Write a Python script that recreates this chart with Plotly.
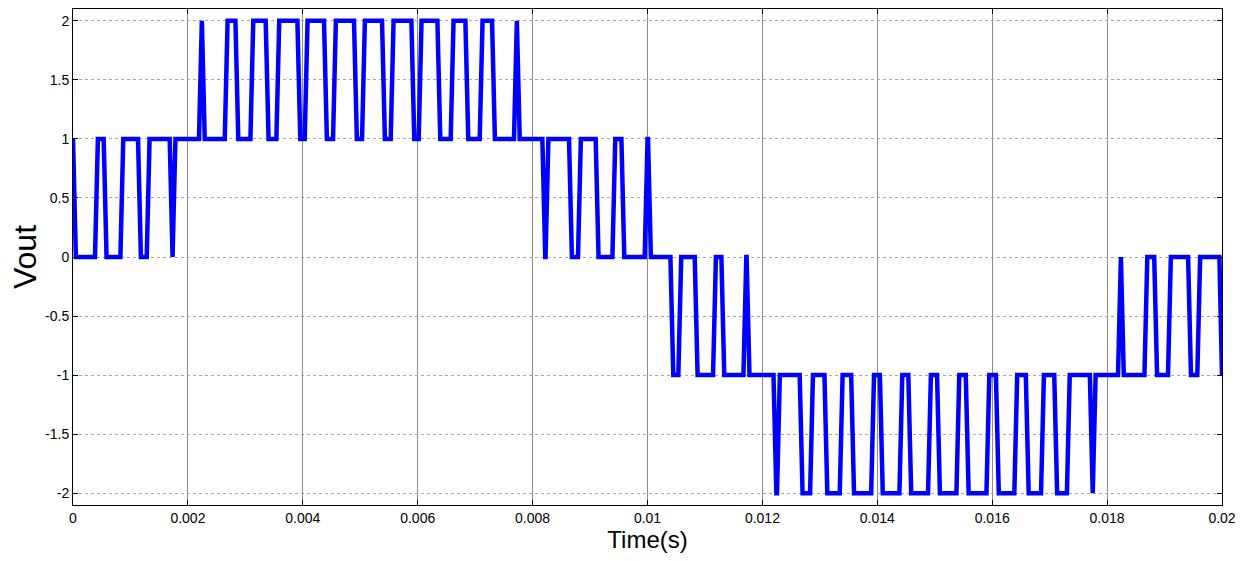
import plotly.graph_objects as go

# ---- data (times in ms, level after each switching edge) ----
initial_level = 1
edge_times_ms = [
    0.000, 0.383, 0.534, 0.825, 1.132, 1.283, 1.683, 1.733,
    2.193, 2.243, 2.641, 2.827, 3.088, 3.354, 3.540, 3.906,
    4.033, 4.369, 4.526, 4.891, 5.031, 5.379, 5.530, 5.890,
    6.017, 6.343, 6.574, 6.830, 7.079, 7.294, 7.676, 7.726,
    8.170, 8.225, 8.634, 8.790, 9.098, 9.389, 9.546, 9.951,
    10.009, 10.399, 10.537, 10.822, 11.141, 11.286, 11.670, 11.725,
    12.193, 12.254, 12.649, 12.830, 13.080, 13.346, 13.545, 13.893,
    14.045, 14.385, 14.540, 14.883, 15.040, 15.377, 15.540, 15.900,
    16.065, 16.385, 16.585, 16.850, 17.080, 17.300, 17.700, 17.750,
    18.190, 18.240, 18.650, 18.820, 19.060, 19.410, 19.570, 19.955,
]
edge_levels = [
    0, 1, 0, 1, 0, 1, 0, 1,
    2, 1, 2, 1, 2, 1, 2, 1,
    2, 1, 2, 1, 2, 1, 2, 1,
    2, 1, 2, 1, 2, 1, 2, 1,
    0, 1, 0, 1, 0, 1, 0, 1,
    0, -1, 0, -1, 0, -1, 0, -1,
    -2, -1, -2, -1, -2, -1, -2, -1,
    -2, -1, -2, -1, -2, -1, -2, -1,
    -2, -1, -2, -1, -2, -1, -2, -1,
    0, -1, 0, -1, 0, -1, 0, -1,
]
sample_step_ms = 0.05
t_end_ms = 20.0

x_title = "Time(s)"
y_title = "Vout"
x_tick_vals = [0, 0.002, 0.004, 0.006, 0.008, 0.01, 0.012, 0.014, 0.016, 0.018, 0.02]
x_tick_text = ["0", "0.002", "0.004", "0.006", "0.008", "0.01", "0.012", "0.014", "0.016", "0.018", "0.02"]
y_tick_vals = [2, 1.5, 1, 0.5, 0, -0.5, -1, -1.5, -2]
y_tick_text = ["2", "1.5", "1", "0.5", "0", "-0.5", "-1", "-1.5", "-2"]

# ---- build the sampled polyline ----
t_pts = [0.0]
v_pts = [initial_level]
level = initial_level
for te, lv in zip(edge_times_ms, edge_levels):
    if te > t_pts[-1]:
        t_pts.append(te)
        v_pts.append(level)
    t_pts.append(min(te + sample_step_ms, t_end_ms))
    v_pts.append(lv)
    level = lv
if t_pts[-1] < t_end_ms:
    t_pts.append(t_end_ms)
    v_pts.append(level)
t_s = [t / 1000.0 for t in t_pts]

fig = go.Figure()
fig.add_trace(go.Scatter(
    x=t_s, y=v_pts, mode="lines",
    line=dict(color="#0000ff", width=4.5),
    showlegend=False, hoverinfo="skip",
))

font_family = "Liberation Sans, Arial, sans-serif"
# page body adds an 8px offset; figure sized to fit the 1252x561 window
fig.update_layout(
    width=1236, height=545,
    margin=dict(l=65, r=22, t=1, b=48, autoexpand=False),
    paper_bgcolor="white", plot_bgcolor="white",
    font=dict(family=font_family, color="black", size=14),
)
fig.update_xaxes(
    range=[0, 0.02], tickvals=x_tick_vals, ticktext=x_tick_text,
    showline=True, linecolor="black", linewidth=1, mirror="ticks",
    ticks="inside", ticklen=5, tickcolor="black",
    showgrid=True, gridcolor="#8c8c8c", gridwidth=1,
    zeroline=False, automargin=False,
    title=dict(text=x_title, font=dict(size=24, family=font_family), standoff=12),
    tickfont=dict(size=14),
)
fig.update_yaxes(
    range=[-2.1, 2.1], tickvals=y_tick_vals, ticktext=y_tick_text,
    showline=True, linecolor="black", linewidth=1, mirror="ticks",
    ticks="inside", ticklen=5, tickcolor="black",
    showgrid=True, gridcolor="#a8a8a8", gridwidth=1, griddash="dot",
    zeroline=False, automargin=False,
    tickfont=dict(size=14),
)
fig.add_annotation(
    text=y_title, xref="paper", yref="paper", x=0, y=0.5,
    xanchor="center", yanchor="middle", xshift=-48, textangle=-90, showarrow=False,
    font=dict(size=32, family=font_family, color="black"),
)

fig.write_html("out.html")
